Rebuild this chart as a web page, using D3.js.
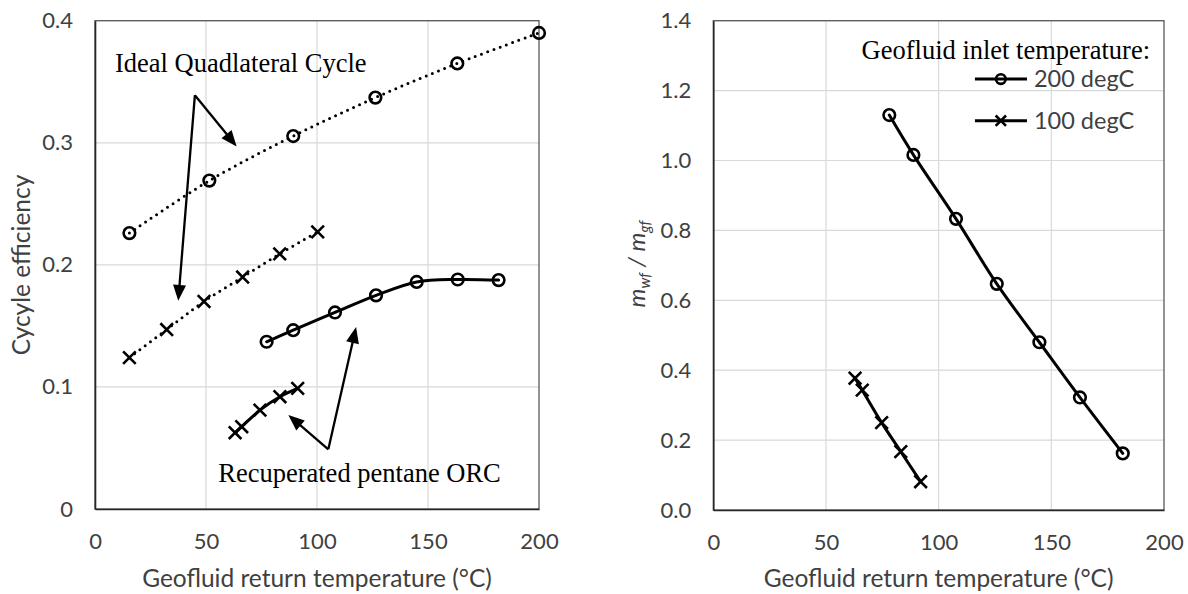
<!DOCTYPE html>
<html><head><meta charset="utf-8">
<script src="https://cdn.jsdelivr.net/npm/d3@7"></script>
<style>body{margin:0;background:#fff}svg{display:block}</style>
</head><body>
<script>
// ---------- data ----------
const xTickValues = [0, 50, 100, 150, 200];
const yTicksLeft = [0, 0.1, 0.2, 0.3, 0.4];
const yTicksRight = [0, 0.2, 0.4, 0.6, 0.8, 1.0, 1.2, 1.4];

const idealT200 = [15.5, 51.5, 89.3, 126.3, 163.2, 200.0];
const idealEff200 = [0.226, 0.269, 0.3055, 0.337, 0.365, 0.390];
const idealT100 = [15.5, 32.3, 49.1, 66.5, 83.2, 100.3];
const idealEff100 = [0.124, 0.147, 0.170, 0.190, 0.209, 0.227];
const orcT200 = [77.3, 89.3, 108.1, 126.6, 144.9, 163.4, 181.8];
const orcEff200 = [0.137, 0.1465, 0.161, 0.175, 0.186, 0.188, 0.1875];
const orcT100 = [63.1, 66.1, 74.3, 83.3, 91.3];
const orcEff100 = [0.0625, 0.0674, 0.081, 0.092, 0.0988];

const mT200 = [78.1, 88.8, 107.7, 125.8, 144.7, 162.7, 181.7];
const mRatio200 = [1.130, 1.016, 0.833, 0.647, 0.480, 0.322, 0.162];
const mT100 = [62.9, 66.1, 74.7, 83.2, 92.0];
const mRatio100 = [0.377, 0.343, 0.250, 0.167, 0.081];

const legendLabels = ["200 degC", "100 degC"];
const legendTitle = "Geofluid inlet temperature:";
const noteIdeal = "Ideal Quadlateral Cycle";
const noteOrc = "Recuperated pentane ORC";
// annotation anchors in data units [T, value]
const idealArrowFrom = [45.0, 0.339];
const idealArrowTo = [[63.8, 0.297], [37.5, 0.1705]];
const orcArrowFrom = [105.1, 0.0489];
const orcArrowTo = [[87.1, 0.0769], [117.6, 0.149]];
const idealNotePos = [9.0, 0.358];
const orcNotePos = [55.5, 0.022];

// ---------- drawing ----------
const W = 1188, H = 594;
const svg = d3.select("body").append("svg").attr("width", W).attr("height", H);
const sans = "Lato, 'Open Sans', sans-serif";
const serif = "'Liberation Serif', 'Times New Roman', serif";
const tickColor = "#404040";

function zip(a, b) { return a.map((v, i) => [v, b[i]]); }

function panel(x0, x1, y0, y1, yDomain, yTicks, yFmt) {
  const x = d3.scaleLinear().domain([0, 200]).range([x0, x1]);
  const y = d3.scaleLinear().domain(yDomain).range([y1, y0]);
  const g = svg.append("g");
  g.append("g").selectAll("line").data(yTicks.slice(1)).join("line")
    .attr("x1", x0).attr("x2", x1).attr("y1", d => y(d)).attr("y2", d => y(d))
    .attr("stroke", "#d9d9d9").attr("stroke-width", 1.2);
  g.append("g").selectAll("line").data(xTickValues.slice(1, -1)).join("line")
    .attr("y1", y0).attr("y2", y1).attr("x1", d => x(d)).attr("x2", d => x(d))
    .attr("stroke", "#d9d9d9").attr("stroke-width", 1.2);
  g.append("rect").attr("x", x0).attr("y", y0).attr("width", x1 - x0).attr("height", y1 - y0)
    .attr("fill", "none").attr("stroke", "#595959").attr("stroke-width", 1.3);
  const xa = d3.axisBottom(x).tickValues(xTickValues).tickSize(0).tickPadding(24).tickFormat(d3.format("d"));
  const gx = g.append("g").attr("transform", `translate(0,${y1})`).call(xa);
  const ya = d3.axisLeft(y).tickValues(yTicks).tickSize(0).tickPadding(22).tickFormat(yFmt);
  const gy = g.append("g").attr("transform", `translate(${x0},0)`).call(ya);
  [gx, gy].forEach(a => {
    a.select(".domain").attr("stroke", "#262626").attr("stroke-width", 1.6);
    a.selectAll("text").attr("font-family", sans).attr("font-size", 22).attr("fill", tickColor);
  });
  return { x, y, g };
}

function drawLine(p, xs, ys, dotted) {
  const line = d3.line().x(d => p.x(d[0])).y(d => p.y(d[1])).curve(d3.curveCatmullRom.alpha(0.5));
  const path = p.g.append("path").datum(zip(xs, ys)).attr("d", line)
    .attr("fill", "none").attr("stroke", "#000").attr("stroke-width", 3)
    .attr("stroke-linecap", "round");
  if (dotted) path.attr("stroke-dasharray", "0 6.6");
}
function circles(g, pts, r) {
  g.selectAll(null).data(pts).join("circle")
    .attr("cx", d => d[0]).attr("cy", d => d[1]).attr("r", r)
    .attr("fill", "none").attr("stroke", "#000").attr("stroke-width", 2.6);
}
function crosses(g, pts, s) {
  const gg = g.append("g");
  pts.forEach(d => {
    gg.append("path").attr("d", `M${d[0]-s},${d[1]-s}L${d[0]+s},${d[1]+s}M${d[0]-s},${d[1]+s}L${d[0]+s},${d[1]-s}`)
      .attr("stroke", "#000").attr("stroke-width", 2.6).attr("fill", "none");
  });
}
function markers(p, xs, ys, kind) {
  const pts = zip(xs, ys).map(d => [p.x(d[0]), p.y(d[1])]);
  if (kind === "o") circles(p.g, pts, 5.8); else crosses(p.g, pts, 6.3);
}
function arrow(p, from, to) {
  const x1 = p.x(from[0]), y1 = p.y(from[1]), x2 = p.x(to[0]), y2 = p.y(to[1]);
  const dx = x2 - x1, dy = y2 - y1, L = Math.hypot(dx, dy), ux = dx / L, uy = dy / L;
  const hl = 16, hw = 6.5;
  const bx = x2 - ux * hl, by = y2 - uy * hl;
  p.g.append("line").attr("x1", x1).attr("y1", y1).attr("x2", bx + ux * 2).attr("y2", by + uy * 2)
    .attr("stroke", "#000").attr("stroke-width", 2.3);
  p.g.append("path").attr("d", `M${x2},${y2}L${bx - uy * hw},${by + ux * hw}L${bx + uy * hw},${by - ux * hw}Z`)
    .attr("fill", "#000");
}

// ----- left panel -----
const L = panel(95, 539, 20.7, 509, [0, 0.4], yTicksLeft, d => d === 0 ? "0" : d3.format(".1f")(d));
drawLine(L, idealT200, idealEff200, true);
drawLine(L, idealT100, idealEff100, true);
drawLine(L, orcT200, orcEff200, false);
drawLine(L, orcT100, orcEff100, false);
markers(L, idealT200, idealEff200, "o");
markers(L, idealT100, idealEff100, "x");
markers(L, orcT200, orcEff200, "o");
markers(L, orcT100, orcEff100, "x");
idealArrowTo.forEach(t => arrow(L, idealArrowFrom, t));
orcArrowTo.forEach(t => arrow(L, orcArrowFrom, t));
L.g.append("text").attr("x", L.x(idealNotePos[0])).attr("y", L.y(idealNotePos[1]))
  .attr("font-family", serif).attr("font-size", 26.5).attr("fill", "#000").text(noteIdeal);
L.g.append("text").attr("x", L.x(orcNotePos[0])).attr("y", L.y(orcNotePos[1]))
  .attr("font-family", serif).attr("font-size", 26.5).attr("fill", "#000").text(noteOrc);
svg.append("text").attr("x", 317).attr("y", 587).attr("text-anchor", "middle")
  .attr("font-family", sans).attr("font-size", 24.5).attr("fill", tickColor).text("Geofluid return temperature (°C)");
svg.append("text").attr("transform", "translate(30,265) rotate(-90)").attr("text-anchor", "middle")
  .attr("font-family", sans).attr("font-size", 24.5).attr("fill", tickColor).text("Cycyle efficiency");

// ----- right panel -----
const R = panel(713.3, 1164, 20.7, 510, [0, 1.4], yTicksRight, d3.format(".1f"));
drawLine(R, mT200, mRatio200, false);
drawLine(R, mT100, mRatio100, false);
markers(R, mT200, mRatio200, "o");
markers(R, mT100, mRatio100, "x");
svg.append("text").attr("x", 938.6).attr("y", 587).attr("text-anchor", "middle")
  .attr("font-family", sans).attr("font-size", 24.5).attr("fill", tickColor).text("Geofluid return temperature (°C)");
const yt = svg.append("text").attr("transform", "translate(645,264) rotate(-90)").attr("text-anchor", "middle")
  .attr("font-family", sans).attr("font-style", "italic").attr("font-size", 24).attr("fill", tickColor);
yt.append("tspan").text("m");
yt.append("tspan").attr("font-size", 15).attr("dy", 5).text("wf");
yt.append("tspan").attr("dy", -5).text(" / m");
yt.append("tspan").attr("font-size", 15).attr("dy", 5).text("gf");

// legend
R.g.append("text").attr("x", R.x(193.8)).attr("y", R.y(1.290)).attr("text-anchor", "end")
  .attr("font-family", serif).attr("font-size", 26.5).attr("fill", "#000").text(legendTitle);
const legY = [1.233, 1.114];
legendLabels.forEach((lab, i) => {
  const yy = R.y(legY[i]);
  R.g.append("line").attr("x1", R.x(116.1)).attr("x2", R.x(139.2)).attr("y1", yy).attr("y2", yy)
    .attr("stroke", "#000").attr("stroke-width", 3);
  const cx = R.x(127.6);
  if (i === 0) circles(R.g, [[cx, yy]], 4.8); else crosses(R.g, [[cx, yy]], 5.2);
  R.g.append("text").attr("x", R.x(142.3)).attr("y", yy).attr("dy", "0.35em")
    .attr("font-family", sans).attr("font-size", 23.5).attr("fill", tickColor).text(lab);
});
</script>
</body></html>
